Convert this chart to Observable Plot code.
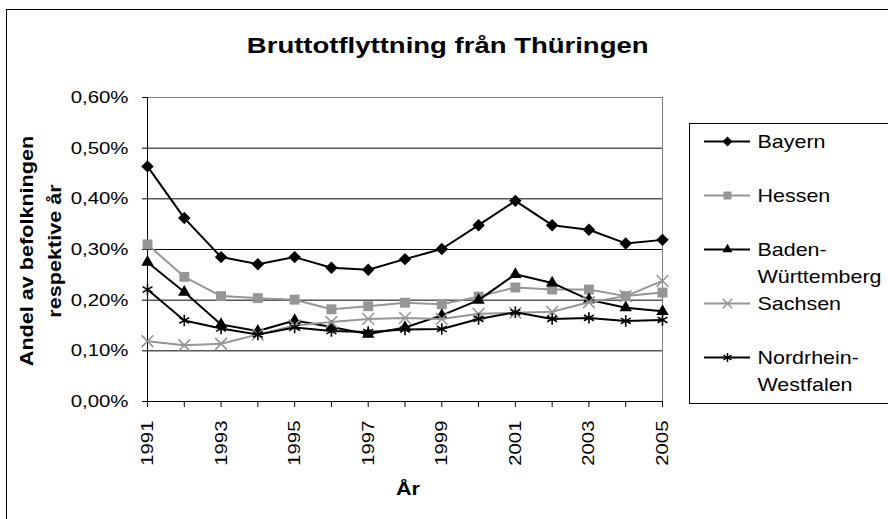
<!DOCTYPE html>
<html><head><meta charset="utf-8">
<script src="https://cdn.jsdelivr.net/npm/d3@7"></script>
<script src="https://cdn.jsdelivr.net/npm/@observablehq/plot@0.6"></script>
<style>
body{margin:0;background:#fff;font-family:"Liberation Sans",Arial,sans-serif;color:#000;}
#wrap{position:relative;width:888px;height:519px;overflow:hidden;background:#fff;}
#chart{position:absolute;left:0;top:0;}
#title{position:absolute;left:0;top:35px;width:896px;text-align:center;font-weight:bold;font-size:22px;line-height:22px;}
#title span{display:inline-block;transform:scaleX(1.25);}
#ytitle{position:absolute;left:-109px;top:223px;width:300px;height:56px;text-align:center;font-weight:bold;font-size:18px;line-height:28px;transform:rotate(-90deg) scaleX(1.2);transform-origin:50% 50%;}
#xtitle{position:absolute;left:358px;top:480px;width:100px;text-align:center;font-weight:bold;font-size:18px;line-height:18px;}
#xtitle span{display:inline-block;transform:scaleX(1.2);}
#legend{position:absolute;left:689px;top:123px;width:230px;height:279px;border:1px solid #000;background:#fff;}
#border{position:absolute;left:6px;top:9px;width:900px;height:600px;border:1px solid #000;pointer-events:none;}
</style></head><body>
<div id="wrap">
  <div id="chart"></div>
  <div id="title"><span>Bruttotflyttning från Thüringen</span></div>
  <div id="ytitle">Andel av befolkningen<br>respektive år</div>
  <div id="xtitle"><span>År</span></div>
  <div id="legend"></div>
  <div id="border"></div>
</div>
<script>
// ---- data ----
const years = [1991, 1992, 1993, 1994, 1995, 1996, 1997, 1998, 1999, 2000, 2001, 2002, 2003, 2004, 2005];
const xTickLabels = ["1991", "", "1993", "", "1995", "", "1997", "", "1999", "", "2001", "", "2003", "", "2005"];
const yTicks = [0, 0.1, 0.2, 0.3, 0.4, 0.5, 0.6];
const yTickLabels = ["0,00%", "0,10%", "0,20%", "0,30%", "0,40%", "0,50%", "0,60%"];
const seriesNames = ["Bayern", "Hessen", "Baden-Württemberg", "Sachsen", "Nordrhein-Westfalen"];
const legendLabels = ["Bayern", "Hessen", "Baden-\nWürttemberg", "Sachsen", "Nordrhein-\nWestfalen"];
// values in percent of population
const bayern  = [0.464, 0.362, 0.285, 0.271, 0.285, 0.264, 0.260, 0.281, 0.301, 0.348, 0.396, 0.348, 0.339, 0.312, 0.319];
const hessen  = [0.310, 0.246, 0.208, 0.204, 0.201, 0.182, 0.188, 0.195, 0.192, 0.207, 0.225, 0.221, 0.221, 0.208, 0.215];
const baden   = [0.275, 0.216, 0.152, 0.139, 0.160, 0.147, 0.133, 0.146, 0.170, 0.200, 0.251, 0.234, 0.201, 0.185, 0.178];
const sachsen = [0.119, 0.111, 0.114, 0.132, 0.150, 0.157, 0.163, 0.165, 0.163, 0.173, 0.175, 0.177, 0.196, 0.208, 0.238];
const nrw     = [0.221, 0.160, 0.144, 0.132, 0.146, 0.139, 0.137, 0.142, 0.143, 0.163, 0.176, 0.163, 0.165, 0.159, 0.161];
const seriesValues = [bayern, hessen, baden, sachsen, nrw];

// ---- styles ----
const seriesColors  = ["#000000", "#969696", "#000000", "#969696", "#000000"];
const seriesSymbols = ["diamond2", "square", "triangle", "times", "asterisk"];
const symbolR       = [5.6, 5.6, 4.6, 5.4, 5.4];
const symbolFilled  = [true, true, true, false, false];

const rows = seriesNames.map((name, s) => years.map((year, i) => ({series: name, year, value: seriesValues[s][i]})));
const xLabelMap = new Map(years.map((y, i) => [y, xTickLabels[i]]));
const yLabelMap = new Map(yTicks.map((v, i) => [v, yTickLabels[i]]));
const font = "'Liberation Sans', Arial, sans-serif";

// widen glyphs horizontally (the reference font renders wider than Arial)
function stretch(svg, s) {
  svg.querySelectorAll("text").forEach(t => {
    const tr = t.getAttribute("transform") || "";
    const x = t.getAttribute("x");
    let pre = "";
    if (x !== null && isFinite(+x)) {
      pre = `translate(${+x},0)`;
      t.removeAttribute("x");
    }
    t.setAttribute("transform", `${tr} ${pre} scale(${s},1)`.trim());
  });
}

function seriesMarks(data, s, xOpt, yOpt) {
  const dotOpts = symbolFilled[s]
    ? {fill: seriesColors[s], stroke: "none"}
    : {fill: "none", stroke: seriesColors[s], strokeWidth: 1.6};
  return [
    Plot.line(data, {x: xOpt, y: yOpt, stroke: seriesColors[s], strokeWidth: 2}),
    Plot.dot(data, {x: xOpt, y: yOpt, symbol: seriesSymbols[s], r: symbolR[s], ...dotOpts})
  ];
}

const main = Plot.plot({
  width: 888, height: 519,
  marginLeft: 147, marginRight: 226, marginTop: 97, marginBottom: 118,
  style: {background: "transparent", fontFamily: font, fontSize: "17px", color: "#000"},
  x: {domain: [1991, 2005]},
  y: {domain: [0, 0.6]},
  marks: [
    Plot.ruleY(yTicks.filter(v => v > 0 && v < 0.6), {stroke: "#000", strokeWidth: 1}),
    Plot.ruleY([0.6], {stroke: "#808080", strokeWidth: 1}),
    Plot.ruleX([2005], {stroke: "#808080", strokeWidth: 1}),
    Plot.ruleX([1991], {stroke: "#000", strokeWidth: 1}),
    Plot.ruleY([0], {stroke: "#000", strokeWidth: 1}),
    Plot.axisY({ticks: yTicks, tickFormat: d => yLabelMap.get(d), tickSize: 5, tickPadding: 14, label: null, fontSize: 17, stroke: "#000"}),
    Plot.axisX({ticks: years, tickFormat: d => xLabelMap.get(d), tickSize: 6, tickPadding: 13, tickRotate: -90, label: null, fontSize: 17, stroke: "#000"}),
    ...rows.flatMap((data, s) => seriesMarks(data, s, "year", "value"))
  ]
});
stretch(main, 1.2);
document.getElementById("chart").appendChild(main);

const legendData = seriesNames.map((name, s) => ({name, label: legendLabels[s]}));
const legend = Plot.plot({
  width: 200, height: 277,
  margin: 0,
  style: {background: "transparent", fontFamily: font, fontSize: "19px", color: "#000", overflow: "visible"},
  x: {domain: [0, 1], range: [14, 60], axis: null},
  y: {type: "point", domain: seriesNames, range: [15, 234], padding: 0, axis: null},
  marks: [
    ...legendData.flatMap((d, s) => [
      Plot.ruleY([d], {y: "name", x1: () => 0, x2: () => 1, stroke: seriesColors[s], strokeWidth: 2}),
      Plot.dot([d], {x: () => 0.5, y: "name", symbol: seriesSymbols[s], r: symbolR[s] * 0.8,
        ...(symbolFilled[s] ? {fill: seriesColors[s], stroke: "none"} : {fill: "none", stroke: seriesColors[s], strokeWidth: 1.5})})
    ]),
    Plot.text(legendData, {x: () => 1, y: "name", text: "label", textAnchor: "start", lineAnchor: "top", dx: 7, dy: -12.4, lineHeight: 1.42, fontSize: 19, fill: "#000"})
  ]
});
stretch(legend, 1.13);
document.getElementById("legend").appendChild(legend);
</script>
</body></html>
